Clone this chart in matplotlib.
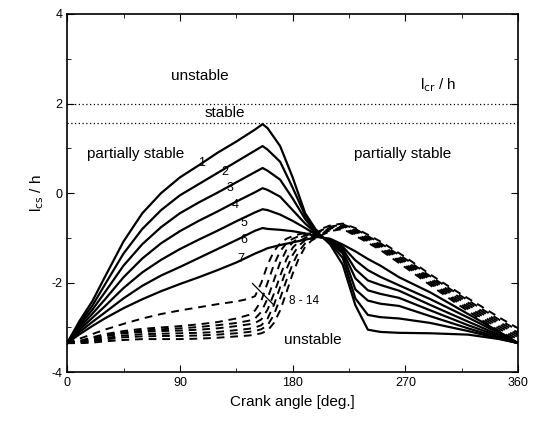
import numpy as np
import matplotlib.pyplot as plt
from matplotlib.ticker import MultipleLocator

plt.rcParams['font.family'] = ['Liberation Sans', 'DejaVu Sans']
plt.rcParams['axes.unicode_minus'] = False

# crank angles for the solid curves (1 - 7)
ang_s = [0, 5, 10, 20, 30, 45, 60, 75, 90, 105, 120, 135, 150, 156, 160, 170,
         180, 190, 200, 210, 220, 230, 240, 250, 265, 290, 320, 345, 360]

c1 = [-3.35, -3.10, -2.85, -2.42, -1.88, -1.08, -0.45, 0.00, 0.35, 0.62, 0.90, 1.15, 1.42, 1.54, 1.45, 1.05,
      0.35, -0.45, -0.88, -1.15, -1.60, -2.50, -3.05, -3.10, -3.12, -3.13, -3.16, -3.26, -3.35]
c2 = [-3.35, -3.12, -2.90, -2.52, -2.05, -1.35, -0.80, -0.38, -0.05, 0.20, 0.45, 0.70, 0.95, 1.05, 0.97, 0.70,
      0.12, -0.50, -0.90, -1.12, -1.45, -2.35, -2.72, -2.77, -2.80, -2.90, -3.08, -3.25, -3.35]
c3 = [-3.35, -3.15, -2.95, -2.61, -2.22, -1.62, -1.14, -0.76, -0.45, -0.21, 0.01, 0.24, 0.47, 0.56, 0.50, 0.30,
      -0.12, -0.58, -0.92, -1.10, -1.35, -2.15, -2.40, -2.47, -2.52, -2.75, -3.02, -3.23, -3.35]
c4 = [-3.35, -3.17, -3.00, -2.70, -2.38, -1.88, -1.46, -1.12, -0.85, -0.62, -0.41, -0.19, 0.02, 0.11, 0.07, -0.08,
      -0.38, -0.68, -0.93, -1.08, -1.30, -1.90, -2.17, -2.25, -2.34, -2.62, -2.95, -3.20, -3.35]
c5 = [-3.35, -3.20, -3.05, -2.79, -2.53, -2.12, -1.77, -1.49, -1.25, -1.04, -0.84, -0.63, -0.43, -0.36, -0.38, -0.48,
      -0.62, -0.78, -0.95, -1.06, -1.25, -1.70, -1.95, -2.05, -2.18, -2.50, -2.87, -3.17, -3.35]
c6 = [-3.35, -3.22, -3.10, -2.88, -2.67, -2.35, -2.07, -1.84, -1.65, -1.45, -1.25, -1.05, -0.84, -0.78, -0.80, -0.82,
      -0.85, -0.90, -0.97, -1.04, -1.20, -1.50, -1.72, -1.87, -2.06, -2.37, -2.78, -3.13, -3.35]
c7 = [-3.35, -3.25, -3.15, -2.97, -2.80, -2.57, -2.37, -2.19, -2.03, -1.88, -1.72, -1.55, -1.35, -1.28, -1.23, -1.16,
      -1.10, -1.04, -0.98, -1.02, -1.15, -1.30, -1.47, -1.62, -1.88, -2.22, -2.70, -3.10, -3.35]

# crank angles for the dashed curves (8 - 14)
ang_d = [0, 10, 20, 30, 45, 60, 75, 90, 105, 120, 135, 145, 150, 155, 160, 165, 170, 175,
         180, 185, 190, 195, 200, 210, 220, 230, 250, 270, 290, 310, 330, 345, 360]

c8 = [-3.35, -3.25, -3.15, -3.05, -2.92, -2.80, -2.70, -2.62, -2.55, -2.48, -2.42, -2.36, -2.30, -2.00, -1.60, -1.30, -1.12, -1.02,
      -0.96, -0.92, -0.89, -0.86, -0.83, -0.72, -0.68, -0.78, -1.08, -1.43, -1.82, -2.18, -2.52, -2.78, -3.02]
c9 = [-3.35, -3.30, -3.22, -3.15, -3.08, -3.03, -3.00, -2.97, -2.93, -2.88, -2.80, -2.72, -2.62, -2.40, -2.00, -1.60, -1.30, -1.12,
      -1.02, -0.96, -0.92, -0.89, -0.86, -0.75, -0.70, -0.80, -1.12, -1.47, -1.86, -2.22, -2.57, -2.83, -3.07]
c10 = [-3.35, -3.31, -3.24, -3.18, -3.11, -3.07, -3.04, -3.02, -2.99, -2.95, -2.90, -2.85, -2.80, -2.65, -2.35, -1.95, -1.55, -1.27,
       -1.10, -1.00, -0.95, -0.91, -0.88, -0.77, -0.72, -0.83, -1.15, -1.51, -1.90, -2.27, -2.62, -2.88, -3.12]
c11 = [-3.35, -3.32, -3.26, -3.20, -3.13, -3.10, -3.08, -3.07, -3.05, -3.02, -2.97, -2.93, -2.90, -2.82, -2.60, -2.25, -1.85, -1.48,
       -1.22, -1.08, -1.00, -0.94, -0.90, -0.79, -0.74, -0.86, -1.18, -1.55, -1.94, -2.32, -2.67, -2.93, -3.17]
c12 = [-3.35, -3.33, -3.29, -3.24, -3.18, -3.15, -3.14, -3.13, -3.12, -3.10, -3.06, -3.03, -3.00, -2.95, -2.80, -2.50, -2.10, -1.70,
       -1.38, -1.17, -1.05, -0.97, -0.92, -0.81, -0.76, -0.89, -1.21, -1.59, -1.98, -2.37, -2.72, -2.98, -3.22]
c13 = [-3.35, -3.34, -3.31, -3.27, -3.22, -3.20, -3.19, -3.19, -3.18, -3.16, -3.13, -3.10, -3.08, -3.04, -2.95, -2.72, -2.35, -1.95,
       -1.58, -1.30, -1.12, -1.01, -0.95, -0.83, -0.78, -0.92, -1.24, -1.62, -2.02, -2.41, -2.77, -3.03, -3.27]
c14 = [-3.35, -3.35, -3.34, -3.31, -3.28, -3.26, -3.26, -3.26, -3.25, -3.23, -3.20, -3.18, -3.16, -3.13, -3.07, -2.90, -2.62, -2.22,
       -1.80, -1.45, -1.20, -1.06, -0.98, -0.85, -0.80, -0.95, -1.27, -1.66, -2.06, -2.45, -2.82, -3.08, -3.31]

solid = [c1, c2, c3, c4, c5, c6, c7]
dashed = [c8, c9, c10, c11, c12, c13, c14]

l_cr = 2.0        # critical length line
l_stable = 1.57   # lower bound of stable band

# curve number labels (angle, value)
lab_num = ['1', '2', '3', '4', '5', '6', '7']
lab_x = [107, 126, 130, 134, 141, 141, 139]
lab_y = [0.68, 0.47, 0.11, -0.27, -0.67, -1.05, -1.47]

fig, ax = plt.subplots(figsize=(5.37, 4.23), dpi=100)
fig.subplots_adjust(left=0.125, right=0.965, top=0.967, bottom=0.12)

for c in solid:
    ax.plot(ang_s, c, color='black', lw=1.6, solid_joinstyle='round')
for c in dashed:
    ax.plot(ang_d, c, color='black', lw=1.4, dashes=(4, 3))

ax.axhline(l_cr, color='black', lw=0.9, ls=(0, (1, 2)))
ax.axhline(l_stable, color='black', lw=0.9, ls=(0, (1, 2)))

for t, x, y in zip(lab_num, lab_x, lab_y):
    ax.text(x, y, t, fontsize=9, ha='center', va='center')

ax.text(106, 2.62, 'unstable', fontsize=11, ha='center', va='center')
ax.text(126, 1.78, 'stable', fontsize=11, ha='center', va='center')
ax.text(55, 0.88, 'partially stable', fontsize=11, ha='center', va='center')
ax.text(268, 0.88, 'partially stable', fontsize=11, ha='center', va='center')
ax.text(296, 2.42, r'l$_{\mathrm{cr}}$ / h', fontsize=11, ha='center', va='center')
ax.text(196, -3.27, 'unstable', fontsize=11, ha='center', va='center')
ax.text(177, -2.42, '8 - 14', fontsize=8.5, ha='left', va='center')
ax.plot([148, 165], [-2.02, -2.5], color='black', lw=0.9)

ax.set_xlim(0, 360)
ax.set_ylim(-4, 4)
ax.xaxis.set_major_locator(MultipleLocator(90))
ax.xaxis.set_minor_locator(MultipleLocator(45))
ax.yaxis.set_major_locator(MultipleLocator(2))
ax.yaxis.set_minor_locator(MultipleLocator(1))
ax.tick_params(which='both', direction='in', top=True, right=True, labelsize=9)
ax.tick_params(which='major', length=5)
ax.tick_params(which='minor', length=3)
for s in ax.spines.values():
    s.set_linewidth(1.2)

ax.set_xlabel('Crank angle [deg.]', fontsize=11)
ax.set_ylabel(r'l$_{\mathrm{cs}}$ / h', fontsize=11)

fig.savefig('out.png', dpi=100)
